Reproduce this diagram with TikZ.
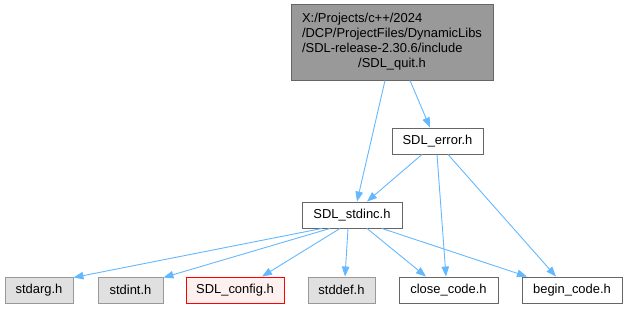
\documentclass[tikz,border=0pt]{standalone}
\usepackage{fontspec}
\setmainfont{Liberation Sans}
\usetikzlibrary{arrows.meta}
\definecolor{edgeblue}{HTML}{63B8FF}
\definecolor{boxgray}{HTML}{999999}
\definecolor{boxdark}{HTML}{666666}
\definecolor{sysfill}{HTML}{E0E0E0}
\definecolor{cfgfill}{HTML}{FFF0F0}
\tikzset{
  file/.style={draw=boxdark, fill=white, line width=0.9bp, minimum height=26bp,
    inner sep=0pt, font=\fontsize{13}{15}\selectfont},
  rootfile/.style={file, fill=boxgray, draw=boxdark, minimum height=76bp, minimum width=202bp},
  sysfile/.style={file, fill=sysfill, draw=boxgray},
  cfgfile/.style={file, fill=cfgfill, draw=red},
  dep/.style={draw=edgeblue, line width=0.9bp, -{Triangle[length=10bp,width=7.5bp]}}
}
\begin{document}
\begin{tikzpicture}[x=1bp,y=-1bp]
\useasboundingbox (0,0) rectangle (626,309);
% include graph nodes
\node[rootfile] (root) at (392,42) {\begin{tabular}{@{}l@{}}
X:/Projects/c++/2024\\
/DCP/ProjectFiles/DynamicLibs\\
/SDL-release-2.30.6/include\\
\multicolumn{1}{@{}c@{}}{/SDL\_quit.h}
\end{tabular}};
\node[file, minimum width=91bp] (error) at (437.5,141) {SDL\_error.h};
\node[file, minimum width=100bp] (stdinc) at (352,215) {SDL\_stdinc.h};
\node[sysfile, minimum width=68bp] (stdarg) at (39,290) {stdarg.h};
\node[sysfile, minimum width=65bp] (stdint) at (130.5,290) {stdint.h};
\node[cfgfile, minimum width=98bp] (config) at (235,290) {SDL\_config.h};
\node[sysfile, minimum width=67bp] (stddef) at (341.5,290) {stddef.h};
\node[file, minimum width=99bp] (close) at (448.5,290) {close\_code.h};
\node[file, minimum width=100bp] (begin) at (572,290) {begin\_code.h};
% dependencies
\draw[dep] ([xshift=-7bp]root.south) -- ([xshift=5bp]stdinc.north);
\draw[dep] ([xshift=18bp]root.south) -- ([xshift=-7.5bp]error.north);
\draw[dep] ([xshift=-15.5bp]error.south) -- ([xshift=15bp]stdinc.north);
\draw[dep] ([xshift=-0.5bp]error.south) -- ([xshift=-2.5bp]close.north);
\draw[dep] ([xshift=10.5bp]error.south) -- ([xshift=-16bp]begin.north);
\draw[dep] ([xshift=-30bp]stdinc.south) -- ([yshift=-1bp]stdarg.north east);
\draw[dep] ([xshift=-22bp]stdinc.south) -- ([yshift=-1bp]stdint.north east);
\draw[dep] ([xshift=-12bp]stdinc.south) -- ([xshift=27bp]config.north);
\draw[dep] ([xshift=-4bp]stdinc.south) -- ([xshift=3.5bp]stddef.north);
\draw[dep] ([xshift=15bp]stdinc.south) -- ([xshift=-22.5bp]close.north);
\draw[dep] ([xshift=30bp]stdinc.south) -- ([xshift=-45bp]begin.north);
\end{tikzpicture}
\end{document}
